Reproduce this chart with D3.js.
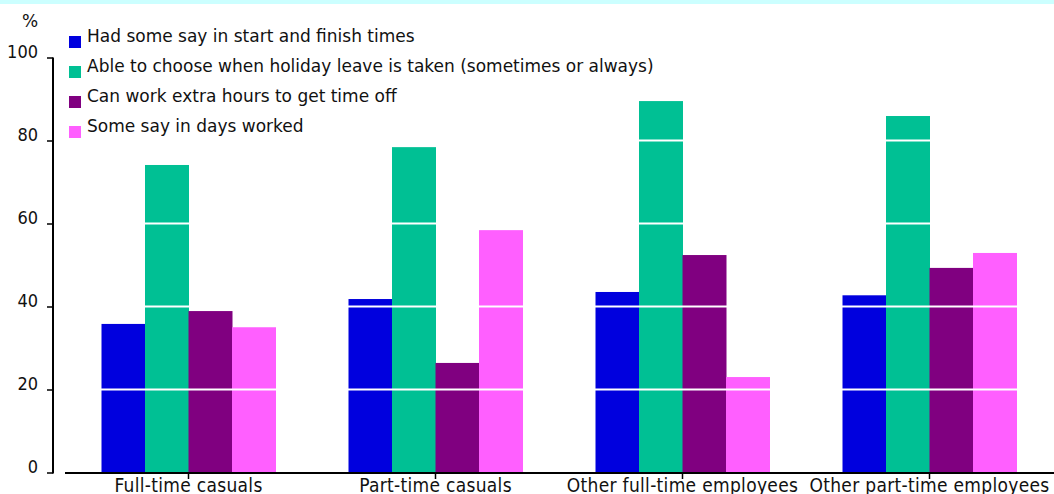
<!DOCTYPE html>
<html>
<head>
<meta charset="utf-8">
<script src="https://cdn.jsdelivr.net/npm/d3@7"></script>
<style>
  html, body { margin: 0; padding: 0; background: #fff; }
  svg { display: block; }
  text { font-family: "DejaVu Sans", Verdana, sans-serif; fill: #111; }
</style>
</head>
<body>
<svg id="chart" width="1054" height="494"></svg>
<script>
// Employee flexibility by type of employment (%)
const categories = ["Full-time casuals", "Part-time casuals", "Other full-time employees", "Other part-time employees"];
const seriesNames = [
  "Had some say in start and finish times",
  "Able to choose when holiday leave is taken (sometimes or always)",
  "Can work extra hours to get time off",
  "Some say in days worked"
];
const startFinish   = [35.8, 41.8, 43.5, 42.7];
const holidayLeave  = [74.1, 78.4, 89.5, 85.9];
const extraHours    = [38.9, 26.4, 52.4, 49.3];
const daysWorked    = [35.0, 58.4, 23.0, 52.9];
const seriesColors  = ["#0000DE", "#00C094", "#800080", "#FF5FFF"];
const yTicks        = [0, 20, 40, 60, 80, 100];
const gridValues    = [20, 40, 60, 80];

const seriesValues = [startFinish, holidayLeave, extraHours, daysWorked];

const svg = d3.select("#chart");
const W = 1054, H = 494;

svg.append("rect").attr("x", 0).attr("y", 0).attr("width", W).attr("height", H).attr("fill", "#fff");
svg.append("rect").attr("x", 0).attr("y", 0).attr("width", W).attr("height", 4).attr("fill", "#CCFFFF");

const y = d3.scaleLinear().domain([0, 100]).range([472.5, 57.5]);
const pad = 73 / 247;
const x0 = d3.scaleBand().domain(categories).range([65, 1053]).paddingInner(pad).paddingOuter(pad / 2);
const x1 = d3.scaleBand().domain(d3.range(seriesNames.length)).range([0, x0.bandwidth()]).padding(0);

// bars
const groups = svg.append("g").selectAll("g")
  .data(categories)
  .join("g")
  .attr("transform", d => `translate(${x0(d)},0)`);

groups.selectAll("rect")
  .data((c, ci) => seriesValues.map((vals, si) => ({ si, v: vals[ci] })))
  .join("rect")
  .attr("x", d => x1(d.si))
  .attr("width", x1.bandwidth() + 0.5)
  .attr("y", d => y(d.v))
  .attr("height", d => y(0) - y(d.v))
  .attr("fill", d => seriesColors[d.si]);

// white gridlines drawn over the bars
svg.append("g").selectAll("line")
  .data(gridValues)
  .join("line")
  .attr("x1", 65).attr("x2", W)
  .attr("y1", d => y(d)).attr("y2", d => y(d))
  .attr("stroke", "#fff").attr("stroke-width", 2);

// y axis
const yAxis = d3.axisLeft(y).tickValues(yTicks).tickSize(6).tickPadding(9).tickFormat(d3.format("d"));
const yg = svg.append("g").attr("transform", "translate(53,0)").call(yAxis);
yg.select(".domain").remove();
yg.append("line").attr("x1", 0).attr("x2", 0).attr("y1", y(100)).attr("y2", y(0) + 1)
  .attr("stroke", "#000").attr("stroke-width", 2);
yg.selectAll(".tick line").attr("stroke", "#000").attr("stroke-width", 1.5);
yg.selectAll(".tick text")
  .attr("dy", 0).attr("y", -0.5)
  .style("font-family", "'DejaVu Sans Condensed', sans-serif")
  .style("font-size", "18px").attr("fill", "#111");

svg.append("text").attr("x", 30).attr("y", 27).attr("text-anchor", "middle")
  .style("font-size", "17px").text("%");

// x axis
const xAxis = d3.axisBottom(x0).tickSize(6).tickPadding(4);
const xg = svg.append("g").attr("transform", `translate(0,${y(0) + 0.5})`).call(xAxis);
xg.select(".domain").remove();
xg.append("line").attr("x1", 65).attr("x2", W).attr("y1", 0).attr("y2", 0)
  .attr("stroke", "#000").attr("stroke-width", 2);
xg.selectAll(".tick line").attr("stroke", "#000").attr("stroke-width", 1.5);
xg.selectAll(".tick text")
  .attr("dy", 0).attr("y", 18.5)
  .style("font-family", "'DejaVu Sans Condensed', sans-serif")
  .style("font-size", "19px").style("letter-spacing", "0.3px").attr("fill", "#111");

// legend
const legend = svg.append("g").selectAll("g")
  .data(seriesNames)
  .join("g")
  .attr("transform", (d, i) => `translate(69,${36 + i * 30})`);
legend.append("rect").attr("width", 12).attr("height", 12).attr("fill", (d, i) => seriesColors[i]);
legend.append("text").attr("x", 18).attr("y", 5.5).style("font-size", "17px").text(d => d);
</script>
</body>
</html>
